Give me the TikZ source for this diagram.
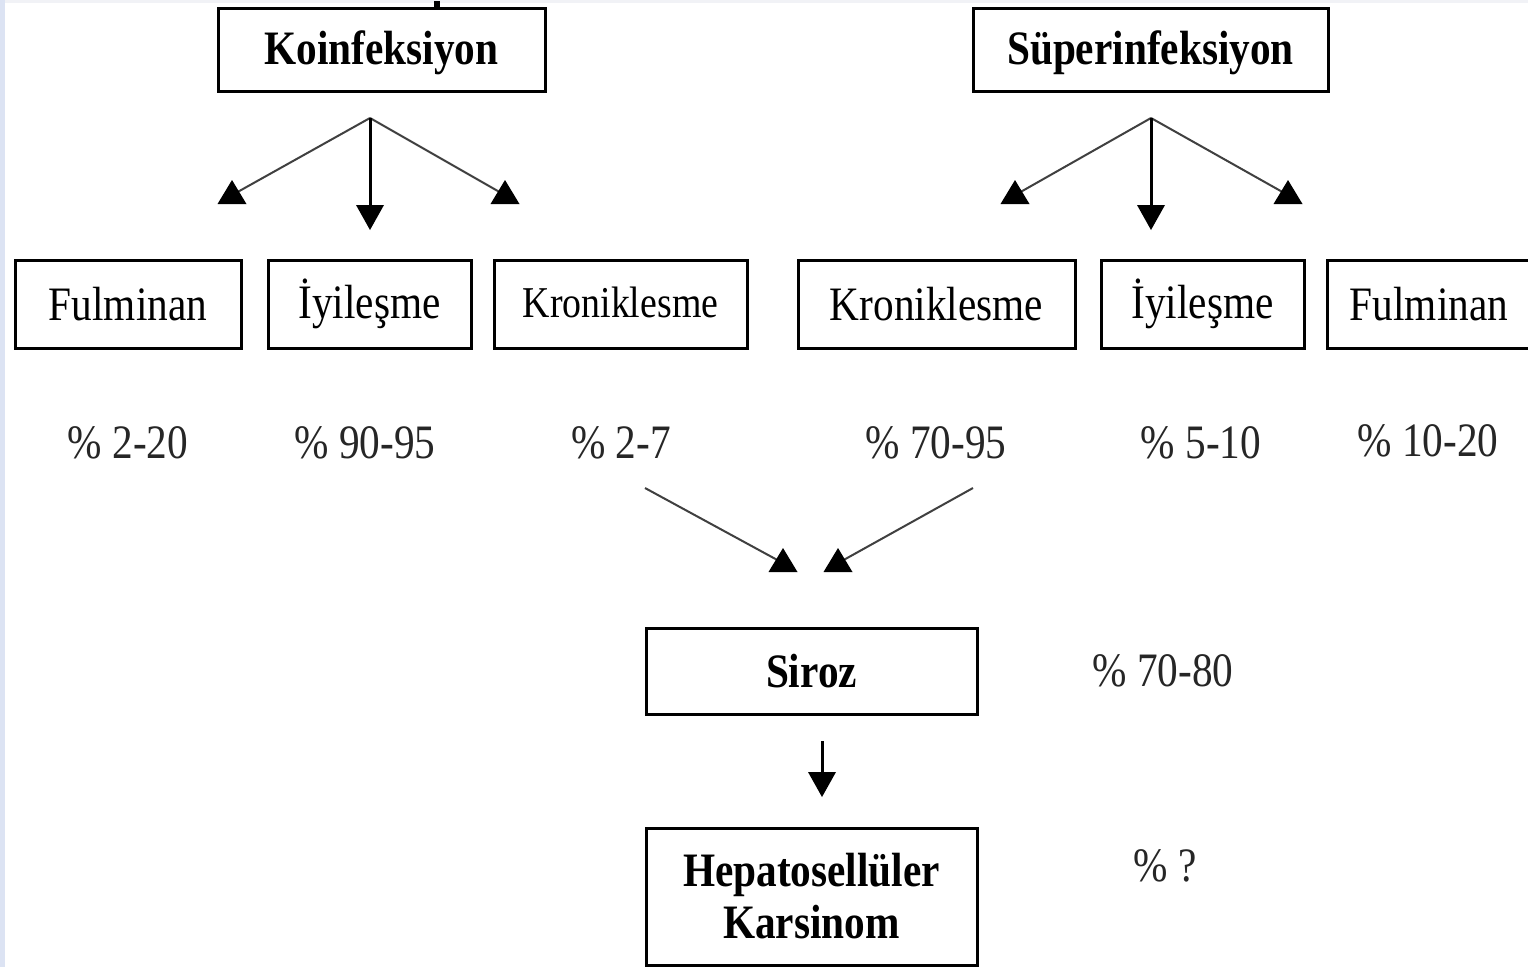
\documentclass[tikz,border=0pt]{standalone}
\usepackage{fontspec}
\setmainfont[FakeStretch=0.86]{Liberation Serif}
\definecolor{edgeblue}{HTML}{DCE3F3}
\definecolor{edgegray}{HTML}{F1F2F6}
\definecolor{linegray}{HTML}{404040}
\tikzset{
  box/.style={draw=black, line width=3pt, rectangle, inner sep=0pt, align=center,
    font=\fontsize{48}{52}\selectfont},
  boldbox/.style={box, font=\fontsize{48}{52}\selectfont\bfseries},
  pct/.style={inner sep=0pt, font=\fontsize{48}{52}\selectfont, text=black!85},
  diag/.style={draw=linegray, line width=2pt},
  vert/.style={draw=black, line width=3pt},
  uptri/.pic={\fill[black] (0,-12) -- (14.5,12) -- (-14.5,12) -- cycle;},
  downtri/.pic={\fill[black] (0,13) -- (14,-12) -- (-14,-12) -- cycle;}
}
\newcommand\shiftdown[2]{\raisebox{#1}[\height][\depth]{#2}}
\begin{document}
\begin{tikzpicture}[x=1pt, y=-1pt]
\useasboundingbox (0,0) rectangle (1528,967);
\clip (0,0) rectangle (1528,967);
\fill[white] (0,0) rectangle (1528,967);
\fill[edgegray] (0,0) rectangle (1528,3);
\fill[edgeblue] (0,0) rectangle (5,967);

% top level
\node[boldbox, minimum width=327pt, minimum height=83pt] (koi) at (381.5,49.5) {\shiftdown{-3pt}{Koinfeksiyon}};
\node[boldbox, minimum width=355pt, minimum height=83pt] (sup) at (1150.5,49.5) {\shiftdown{-3pt}{Süperinfeksiyon}};
\coordinate (koitop) at (437,1);
\draw[line width=6pt] (koi.north -| koitop) -- (koitop);

% second level
\node[box, minimum width=226pt, minimum height=88pt] (f1) at (128,304) {Fulminan};
\node[box, minimum width=203pt, minimum height=88pt] (i1) at (369.5,304) {İyileşme};
\node[box, minimum width=253pt, minimum height=88pt, font=\fontsize{44}{48}\selectfont] (k1) at (620.5,304) {\shiftdown{2pt}{Kroniklesme}};
\node[box, minimum width=277pt, minimum height=88pt] (k2) at (936.5,304) {Kroniklesme};
\node[box, minimum width=203pt, minimum height=88pt] (i2) at (1202.5,304) {İyileşme};
\node[box, minimum width=204pt, minimum height=88pt] (f2) at (1429,304) {Fulminan};

% percentages
\node[pct] (p1) at (128,443) {\% 2-20};
\node[pct] (p2) at (365,443) {\% 90-95};
\node[pct] (p3) at (621,443) {\% 2-7};
\node[pct] (p4) at (936,443) {\% 70-95};
\node[pct] (p5) at (1201,443) {\% 5-10};
\node[pct] (p6) at (1428,441) {\% 10-20};

% bottom
\node[boldbox, minimum width=331pt, minimum height=86pt] (siroz) at (811.5,671) {Siroz};
\node[pct] (p7) at (1163,671) {\% 70-80};
\node[boldbox, minimum width=331pt, minimum height=137pt] (hcc) at (811.5,896.5) {Hepatosellüler\\Karsinom};
\node[pct] (p8) at (1165,866) {\% ?};

% koinfeksiyon arrows
\coordinate (kf) at (370,118);
\coordinate (kl) at (234,194);
\coordinate (km) at (370,216);
\coordinate (kr) at (503,194);
\draw[diag] (kf) -- (kl);
\draw[diag] (kf) -- (kr);
\draw[vert] (kf) -- (km);
\pic at (232,192) {uptri};
\pic at (505,192) {uptri};
\pic at (370,217) {downtri};

% superinfeksiyon arrows
\coordinate (sf) at (1151,118);
\coordinate (sl) at (1017,194);
\coordinate (sm) at (1151,216);
\coordinate (sr) at (1286,194);
\draw[diag] (sf) -- (sl);
\draw[diag] (sf) -- (sr);
\draw[vert] (sf) -- (sm);
\pic at (1015,192) {uptri};
\pic at (1288,192) {uptri};
\pic at (1151,217) {downtri};

% to siroz
\coordinate (al) at (645,488);
\coordinate (ar) at (973,488);
\coordinate (tl) at (781,562);
\coordinate (tr) at (840,562);
\draw[diag] (al) -- (tl);
\draw[diag] (ar) -- (tr);
\pic at (783,560) {uptri};
\pic at (838,560) {uptri};

% siroz to hcc
\coordinate (d1) at (822,741);
\coordinate (d2) at (822,778);
\draw[vert] (d1) -- (d2);
\pic at (822,784) {downtri};
\end{tikzpicture}
\end{document}
